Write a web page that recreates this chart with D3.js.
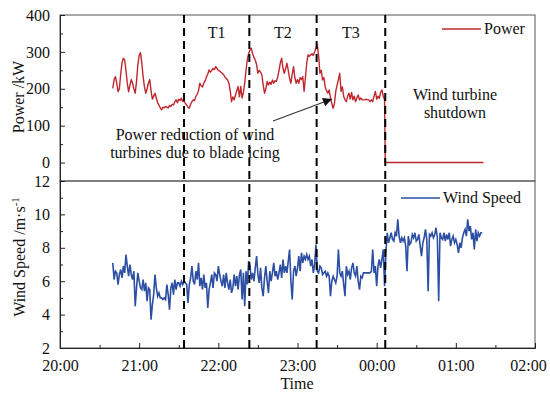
<!DOCTYPE html>
<html>
<head>
<meta charset="utf-8">
<script src="https://cdn.jsdelivr.net/npm/d3@7"></script>
<style>
  body { margin: 0; background: #fff; }
  svg text { font-family: "Liberation Serif", "DejaVu Serif", "Times New Roman", serif !important; fill: #111; }
</style>
</head>
<body>
<div id="chart-area"></div>
<script>
const chartWidth = 550
const chartHeight = 397

// minutes after 20:00, one reading per minute
const seriesStart = 40
const powerKW = [
  201, 225, 233, 215, 192, 200, 240, 270, 283, 278, 250, 215, 192, 210, 225, 215, 200, 188, 220, 265,
  290, 298, 270, 233, 205, 188, 200, 215, 225, 195, 172, 180, 188, 175, 162, 156, 148, 143, 150, 148,
  152, 150, 148, 155, 152, 158, 156, 165, 170, 162, 172, 168, 175, 165, 168, 160, 156, 150, 147, 158,
  165, 170, 168, 180, 185, 195, 215, 208, 205, 215, 222, 232, 240, 251, 245, 250, 255, 252, 260, 255,
  250, 248, 245, 242, 238, 232, 228, 224, 215, 195, 165, 178, 170, 183, 195, 206, 178, 206, 175, 190,
  215, 251, 280, 296, 305, 310, 295, 285, 278, 265, 242, 250, 245, 238, 210, 188, 200, 220, 210, 218,
  212, 224, 215, 222, 220, 232, 250, 270, 283, 255, 242, 255, 269, 250, 228, 215, 240, 260, 230, 215,
  225, 215, 230, 225, 233, 193, 230, 270, 292, 288, 292, 295, 290, 300, 310, 319, 290, 242, 250, 224,
  230, 205, 195, 188, 197, 175, 160, 147, 160, 193, 210, 225, 242, 193, 205, 180, 170, 165, 180, 188,
  172, 190, 170, 180, 165, 175, 183, 170, 175, 170, 170, 170, 172, 170, 170, 165, 170, 165, 180, 193,
  172, 180, 174, 190, 197, 180, 170
]
// after the stop the turbine delivers nothing
const shutdownMinutes = [246.5, 321]
const shutdownKW = [0, 0]

const windSpeed = [
  7.1, 6.1, 6.6, 6.5, 5.8, 6.4, 6.7, 6.2, 6.9, 6.5, 7.6, 6.9, 6.3, 7.0, 6.4, 6.1, 6.6, 4.5, 5.6, 6.5,
  6.0, 5.6, 5.5, 6.1, 5.4, 5.9, 4.8, 5.6, 5.5, 3.7, 4.6, 5.2, 6.4, 5.6, 5.1, 5.3, 5.0, 5.0, 4.9, 5.0,
  4.9, 5.8, 5.2, 4.3, 5.6, 5.9, 5.2, 6.1, 5.5, 5.9, 5.9, 5.7, 6.0, 5.8, 6.0, 5.9, 5.8, 4.7, 5.8, 6.2,
  6.9, 6.0, 5.8, 6.6, 6.1, 7.1, 5.7, 6.2, 5.5, 6.4, 5.6, 5.9, 4.4, 5.5, 5.9, 6.4, 5.6, 6.5, 6.4, 6.0,
  6.9, 6.4, 6.0, 5.7, 6.4, 5.6, 6.5, 5.9, 5.5, 6.1, 5.3, 5.6, 6.4, 5.7, 6.3, 5.5, 6.4, 6.7, 4.9, 6.5,
  4.5, 6.6, 5.8, 7.2, 6.9, 6.1, 6.5, 6.0, 6.8, 7.5, 6.4, 5.9, 6.8, 5.6, 5.1, 6.2, 6.9, 6.0, 5.3, 6.6,
  6.0, 6.5, 7.1, 6.3, 6.6, 6.1, 6.5, 7.0, 6.2, 7.3, 6.5, 6.9, 6.5, 7.2, 7.9, 6.0, 4.9, 6.6, 6.9, 6.3,
  6.8, 7.5, 6.6, 7.7, 7.1, 7.5, 7.3, 7.6, 7.3, 7.5, 6.9, 7.3, 6.5, 7.0, 8.2, 6.6, 6.5, 6.9, 6.8, 6.4,
  6.5, 6.6, 6.3, 6.5, 6.3, 5.1, 6.0, 6.3, 6.1, 5.9, 6.3, 7.9, 6.5, 6.3, 6.6, 5.8, 5.1, 6.9, 6.4, 6.6,
  6.1, 6.8, 7.1, 6.5, 6.3, 6.9, 6.0, 5.5, 6.3, 6.2, 6.5, 6.5, 6.5, 6.5, 6.5, 6.5, 6.6, 7.9, 6.5, 6.9,
  5.7, 6.9, 7.3, 6.8, 7.3, 7.9, 5.7, 7.7, 8.9, 8.3, 8.6, 8.9, 8.5, 8.4, 8.9, 8.7, 9.7, 8.7, 8.3, 8.6,
  8.4, 8.6, 8.1, 6.6, 8.7, 8.2, 8.3, 8.8, 8.6, 8.9, 8.4, 8.5, 8.8, 8.1, 7.5, 8.3, 8.6, 9.1, 8.5, 5.4,
  8.8, 8.7, 8.9, 8.6, 8.8, 9.2, 8.6, 4.8, 8.9, 8.6, 8.5, 8.9, 8.4, 8.8, 8.5, 8.9, 8.1, 8.5, 8.7, 8.3,
  8.5, 8.2, 7.7, 8.3, 8.0, 8.6, 8.9, 9.1, 8.7, 9.7, 9.0, 9.3, 8.5, 8.9, 7.9, 9.1, 8.4, 8.9, 8.7, 8.9,
  8.9
]

// dashed markers (minutes after 20:00) and their period labels
const markerMinutes = [94, 143.5, 194.5, 246.5]
const periodLabels = ["T1", "T2", "T3"]

const powerTicks = [0, 100, 200, 300, 400]
const powerMinor = [50, 150, 250, 350]
const windTicks = [2, 4, 6, 8, 10, 12]
const windMinor = [3, 5, 7, 9, 11]

const redColor = "#c0272d"
const blueColor = "#2c4ea3"

const base = new Date(2021, 0, 1, 20, 0)
const toDate = m => new Date(base.getTime() + m * 60000)

const svg = d3.select("#chart-area").append("svg")
    .attr("width", chartWidth)
    .attr("height", chartHeight)

const plotLeft = 60, plotRight = 535, plotTop = 15, plotMid = 181, plotBottom = 348

const x = d3.scaleTime()
    .domain([toDate(0), toDate(360)])
    .range([plotLeft, plotRight])

const yPower = d3.scaleLinear().domain([-50, 400]).range([plotMid, plotTop])
const yWind = d3.scaleLinear().domain([2, 12]).range([plotBottom, plotMid])

// panel frames
svg.append("rect")
    .attr("x", plotLeft).attr("y", plotTop)
    .attr("width", plotRight - plotLeft).attr("height", plotMid - plotTop)
    .attr("fill", "none").attr("stroke", "#555").attr("stroke-width", 1)
svg.append("rect")
    .attr("x", plotLeft).attr("y", plotMid)
    .attr("width", plotRight - plotLeft).attr("height", plotBottom - plotMid)
    .attr("fill", "none").attr("stroke", "#555").attr("stroke-width", 1)

// y axes - ticks point inside
function yAxis(scale, major, minor) {
    const g = svg.append("g").attr("transform", `translate(${plotLeft},0)`)
    g.call(d3.axisLeft(scale).tickValues(major).tickSize(-5).tickPadding(10))
    g.selectAll(".tick text").attr("font-size", "16px")
    g.append("g").call(d3.axisLeft(scale).tickValues(minor).tickSize(-3).tickFormat(""))
        .select(".domain").remove()
    g.selectAll(".tick line").attr("stroke", "#222")
    g.selectAll(".domain").attr("stroke", "#222")
    return g
}
yAxis(yPower, powerTicks, powerMinor)
yAxis(yWind, windTicks, windMinor)

// x axis
const hourTicks = d3.range(0, 361, 60).map(toDate)
const halfTicks = d3.range(30, 360, 60).map(toDate)
const gx = svg.append("g").attr("transform", `translate(0,${plotBottom})`)
gx.call(d3.axisBottom(x).tickValues(hourTicks).tickSize(-5).tickPadding(12)
    .tickFormat(d3.timeFormat("%H:%M")))
gx.append("g").call(d3.axisBottom(x).tickValues(halfTicks).tickSize(-3).tickFormat(""))
    .select(".domain").remove()
gx.selectAll(".tick text").attr("font-size", "16px")
// last label is pulled in a little so it stays on the page
gx.selectAll(".tick text").filter((d, i) => i === hourTicks.length - 1).attr("dx", -7)
gx.selectAll(".tick line").attr("stroke", "#222")
gx.selectAll(".domain").attr("stroke", "#222")

// series
const powerLine = d3.line().x(d => x(toDate(d.t))).y(d => yPower(d.v))
const powerData = powerKW.map((v, i) => ({t: seriesStart + i, v: v}))
shutdownMinutes.forEach((t, i) => powerData.push({t: t, v: shutdownKW[i]}))
svg.append("path")
    .datum(powerData)
    .attr("d", powerLine)
    .attr("fill", "none")
    .attr("stroke", redColor)
    .attr("stroke-width", 1.4)
    .attr("stroke-linejoin", "round")

const windLine = d3.line().x(d => x(toDate(d.t))).y(d => yWind(d.v))
svg.append("path")
    .datum(windSpeed.map((v, i) => ({t: seriesStart + i, v: v})))
    .attr("d", windLine)
    .attr("fill", "none")
    .attr("stroke", blueColor)
    .attr("stroke-width", 1.6)

// dashed markers
svg.selectAll(".marker")
    .data(markerMinutes)
    .enter().append("line")
    .attr("class", "marker")
    .attr("x1", d => x(toDate(d))).attr("x2", d => x(toDate(d)))
    .attr("y1", plotTop).attr("y2", plotBottom)
    .attr("stroke", "#000")
    .attr("stroke-width", 2)
    .attr("stroke-dasharray", "8,5")

svg.selectAll(".period")
    .data(periodLabels)
    .enter().append("text")
    .attr("class", "period")
    .attr("x", (d, i) => (x(toDate(markerMinutes[i])) + x(toDate(markerMinutes[i + 1]))) / 2)
    .attr("y", 38)
    .attr("text-anchor", "middle")
    .attr("font-size", "16px")
    .text(d => d)

// legends
svg.append("line").attr("x1", 442).attr("x2", 481).attr("y1", 29).attr("y2", 29)
    .attr("stroke", redColor).attr("stroke-width", 1.5)
svg.append("text").attr("x", 484).attr("y", 34).attr("font-size", "16px").text("Power")
svg.append("line").attr("x1", 401).attr("x2", 440).attr("y1", 198).attr("y2", 198)
    .attr("stroke", blueColor).attr("stroke-width", 1.5)
svg.append("text").attr("x", 443).attr("y", 203).attr("font-size", "16px").text("Wind Speed")

// annotations
svg.append("text").attr("x", 455).attr("y", 100).attr("text-anchor", "middle")
    .attr("font-size", "16px").text("Wind turbine")
svg.append("text").attr("x", 455).attr("y", 118).attr("text-anchor", "middle")
    .attr("font-size", "16px").text("shutdown")

const note = svg.append("text").attr("x", 195).attr("y", 140).attr("text-anchor", "middle")
    .attr("font-size", "16px")
note.append("tspan").attr("x", 195).text("Power reduction of wind")
note.append("tspan").attr("x", 195).attr("dy", 18).text("turbines due to blade icing")

svg.append("defs").append("marker")
    .attr("id", "arrow")
    .attr("viewBox", "0 0 10 10")
    .attr("refX", 10).attr("refY", 5)
    .attr("markerWidth", 11).attr("markerHeight", 9)
    .attr("markerUnits", "userSpaceOnUse")
    .attr("orient", "auto")
    .append("path").attr("d", "M0,0 L10,5 L0,10 z").attr("fill", "#111")

svg.append("line")
    .attr("x1", 273).attr("y1", 121).attr("x2", 332).attr("y2", 99)
    .attr("stroke", "#333").attr("stroke-width", 1.2)
    .attr("marker-end", "url(#arrow)")

// axis labels
svg.append("text")
    .attr("transform", "translate(24,97) rotate(-90)")
    .attr("text-anchor", "middle").attr("font-size", "16px")
    .text("Power /kW")

const wl = svg.append("text")
    .attr("transform", "translate(25,257) rotate(-90)")
    .attr("text-anchor", "middle").attr("font-size", "16px")
wl.append("tspan").text("Wind Speed /m·s")
wl.append("tspan").attr("dy", -6).attr("font-size", "11px").text("-1")

svg.append("text").attr("x", 297).attr("y", 389).attr("text-anchor", "middle")
    .attr("font-size", "16px").text("Time")
</script>
</body>
</html>
